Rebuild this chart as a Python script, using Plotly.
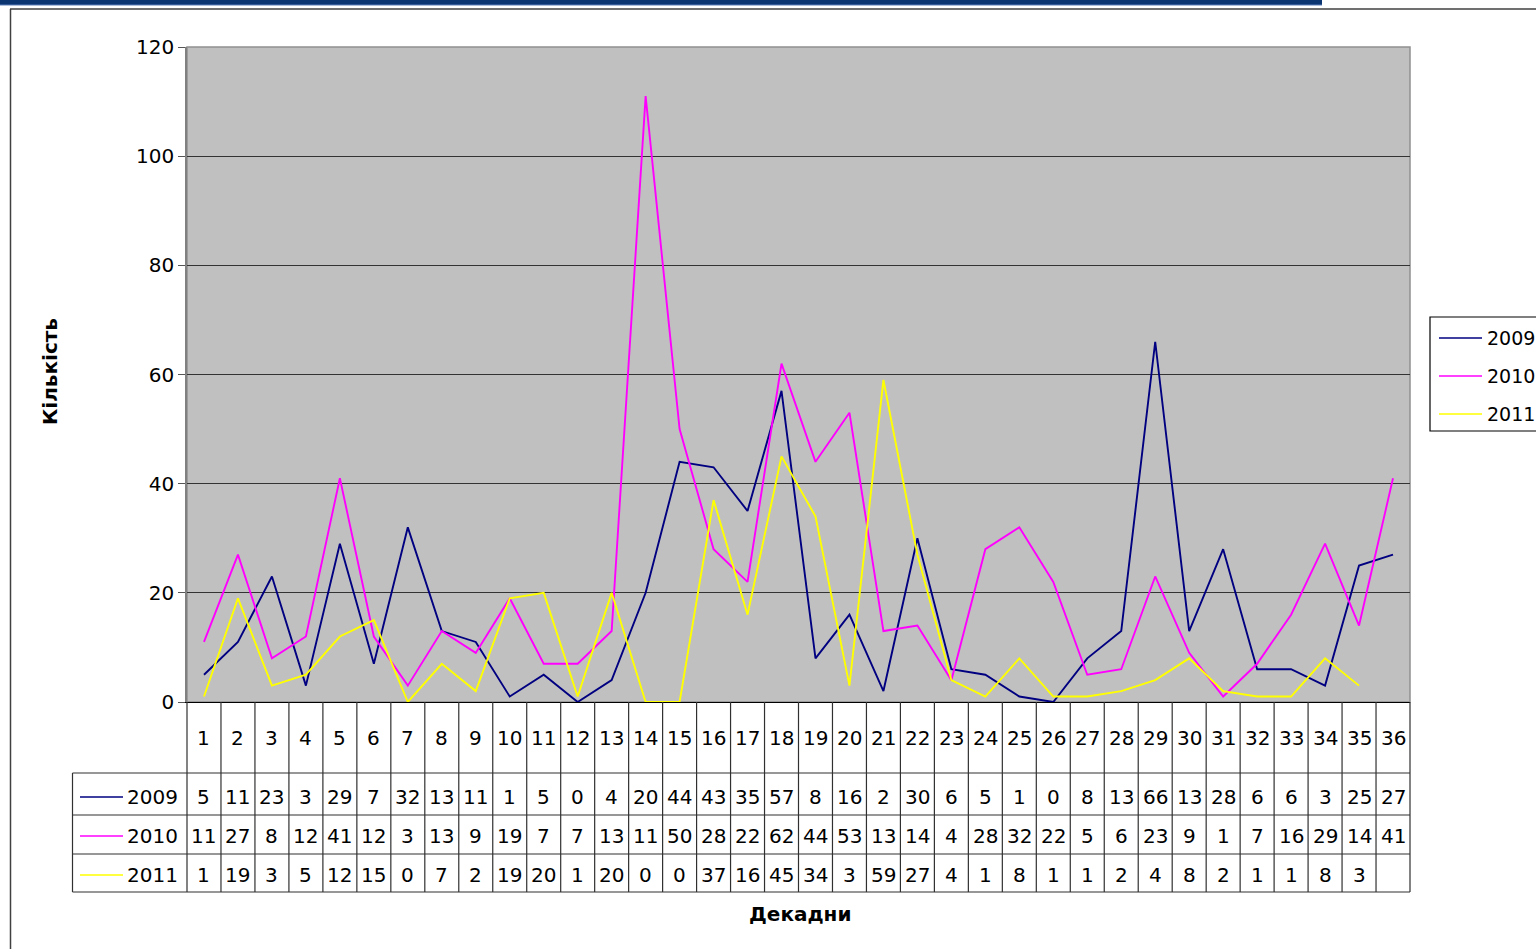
import plotly.graph_objects as go

# ---- data ----
categories = list(range(1, 37))
s2009 = [5, 11, 23, 3, 29, 7, 32, 13, 11, 1, 5, 0, 4, 20, 44, 43, 35, 57, 8, 16, 2, 30, 6, 5, 1, 0, 8, 13, 66, 13, 28, 6, 6, 3, 25, 27]
s2010 = [11, 27, 8, 12, 41, 12, 3, 13, 9, 19, 7, 7, 13, 111, 50, 28, 22, 62, 44, 53, 13, 14, 4, 28, 32, 22, 5, 6, 23, 9, 1, 7, 16, 29, 14, 41]
s2011 = [1, 19, 3, 5, 12, 15, 0, 7, 2, 19, 20, 1, 20, 0, 0, 37, 16, 45, 34, 3, 59, 27, 4, 1, 8, 1, 1, 2, 4, 8, 2, 1, 1, 8, 3, None]
series_names = ["2009", "2010", "2011"]
y_ticks = [0, 20, 40, 60, 80, 100, 120]
y_title = "Кількість"
x_title = "Декадни"

colors = ["#000080", "#FF00FF", "#FFFF00"]
series = [s2009, s2010, s2011]

W, H = 1536, 949
L, R, T, B = 187, 1410, 47, 702
FONT = "DejaVu Sans"


def px(xp):
    return (xp - L) / (R - L)


def py(yp):
    return (B - yp) / (B - T)


fig = go.Figure()
for name, vals, col in zip(series_names, series, colors):
    fig.add_trace(go.Scatter(x=categories, y=vals, mode="lines", name=name,
                             line=dict(color=col, width=1.9), showlegend=False))

shapes = []
annotations = []

# outer frame + top bar
shapes.append(dict(type="rect", xref="paper", yref="paper", x0=px(0), x1=px(1322), y0=py(-1), y1=py(5),
                   fillcolor="#0A3570", line=dict(width=0), layer="above"))
shapes.append(dict(type="line", xref="paper", yref="paper", x0=px(0), x1=px(1322), y0=py(5), y1=py(5),
                   line=dict(color="#5A7FB8", width=1)))
shapes.append(dict(type="line", xref="paper", yref="paper", x0=px(10), x1=px(1540), y0=py(9), y1=py(9),
                   line=dict(color="#404040", width=1.5)))
shapes.append(dict(type="line", xref="paper", yref="paper", x0=px(10.5), x1=px(10.5), y0=py(9), y1=py(955),
                   line=dict(color="#404040", width=1.5)))

# table geometry
row_lines = [773, 815, 854, 892]
row_centers = [797, 836, 875]
num_center = 738
line_col = "#303030"
n = len(categories)
for k in range(n + 1):
    shapes.append(dict(type="line", xref="paper", yref="paper", x0=k / n, x1=k / n, y0=py(B), y1=py(892),
                       line=dict(color=line_col, width=1.2)))
shapes.append(dict(type="line", xref="paper", yref="paper", x0=px(72.5), x1=px(72.5), y0=py(773), y1=py(892),
                   line=dict(color=line_col, width=1.2)))
for yl in row_lines:
    shapes.append(dict(type="line", xref="paper", yref="paper", x0=px(72.5), x1=1, y0=py(yl), y1=py(yl),
                       line=dict(color=line_col, width=1.2)))

for c in categories:
    annotations.append(dict(x=c, y=py(num_center), xref="x", yref="paper", text=str(c), showarrow=False,
                            xanchor="center", yanchor="middle",
                            font=dict(family=FONT, size=20, color="black")))


def cell_text(v):
    if v is None:
        return ""
    s = str(v)
    return s if len(s) <= 2 else s[:2]


for name, vals, col, yc in zip(series_names, series, colors, row_centers):
    for c, v in zip(categories, vals):
        t = cell_text(v)
        if t:
            annotations.append(dict(x=c, y=py(yc), xref="x", yref="paper", text=t, showarrow=False,
                                    xanchor="center", yanchor="middle",
                                    font=dict(family=FONT, size=20, color="black")))
    shapes.append(dict(type="line", xref="paper", yref="paper", x0=px(80), x1=px(123), y0=py(yc), y1=py(yc),
                       line=dict(color=col, width=1.3)))
    annotations.append(dict(x=px(180), y=py(yc), xref="paper", yref="paper", text=name, showarrow=False,
                            xanchor="right", yanchor="middle", font=dict(family=FONT, size=20, color="black")))

# legend (manual, at right edge)
shapes.append(dict(type="rect", xref="paper", yref="paper", x0=px(1430), x1=px(1560), y0=py(317), y1=py(431),
                   fillcolor="white", line=dict(color="black", width=1.2)))
for i, (name, col) in enumerate(zip(series_names, colors)):
    yc = 338 + 38 * i
    shapes.append(dict(type="line", xref="paper", yref="paper", x0=px(1439), x1=px(1482), y0=py(yc), y1=py(yc),
                       line=dict(color=col, width=1.3)))
    annotations.append(dict(x=px(1485), y=py(yc), xref="paper", yref="paper", text=name, showarrow=False,
                            xanchor="left", yanchor="middle", font=dict(family=FONT, size=19, color="black")))

# axis titles
annotations.append(dict(x=px(50), y=py(372), xref="paper", yref="paper", text="<b>" + y_title + "</b>",
                        showarrow=False, textangle=-90, xanchor="center", yanchor="middle",
                        font=dict(family=FONT, size=20, color="black")))
annotations.append(dict(x=px(800), y=py(914), xref="paper", yref="paper", text="<b>" + x_title + "</b>",
                        showarrow=False, xanchor="center", yanchor="middle",
                        font=dict(family=FONT, size=20, color="black")))

fig.update_layout(
    width=W, height=H,
    margin=dict(l=L, r=W - R, t=T, b=H - B, autoexpand=False),
    paper_bgcolor="white",
    plot_bgcolor="#C0C0C0",
    shapes=shapes,
    annotations=annotations,
    showlegend=False,
    xaxis=dict(range=[0.5, 36.5], showticklabels=False, showgrid=False, zeroline=False,
               showline=True, linecolor="#000000", linewidth=1.2, mirror=False, ticks=""),
    yaxis=dict(range=[0, 120], tickvals=y_ticks, showgrid=True, gridcolor="#333333", gridwidth=1.3,
               zeroline=False, showline=True, linecolor="#808080", linewidth=1.5, ticks="outside",
               ticklen=7, tickcolor="#555555", tickfont=dict(family=FONT, size=20, color="black")),
)
fig.add_shape(type="rect", xref="paper", yref="paper", x0=0, x1=1, y0=0, y1=1,
              line=dict(color="#909090", width=1.5), layer="below")

fig.write_html("out.html", config={"displayModeBar": False},
               post_script="document.body.style.margin='0';document.body.style.overflow='hidden';")
